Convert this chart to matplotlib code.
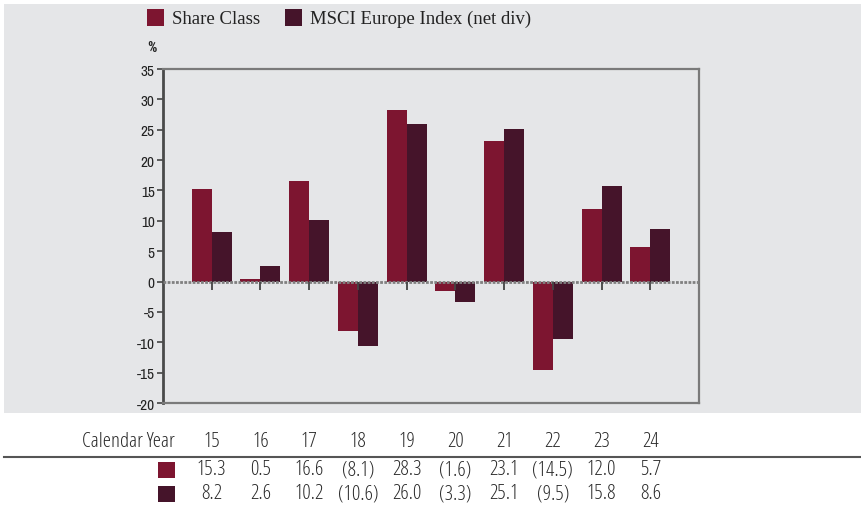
import matplotlib
matplotlib.use("Agg")
import matplotlib.pyplot as plt
from matplotlib.patches import Rectangle
from matplotlib.lines import Line2D
from matplotlib.transforms import blended_transform_factory

years = ["15", "16", "17", "18", "19", "20", "21", "22", "23", "24"]
share_class = [15.3, 0.5, 16.6, -8.1, 28.3, -1.6, 23.1, -14.5, 12.0, 5.7]
msci_index = [8.2, 2.6, 10.2, -10.6, 26.0, -3.3, 25.1, -9.5, 15.8, 8.6]
series_names = ["Share Class", "MSCI Europe Index (net div)"]
colors = ["#7D1530", "#45142A"]
yticks = list(range(-20, 40, 5))

TICK_FONT = ["Archivo Narrow", "Roboto Condensed", "DejaVu Sans"]

W, H = 862, 506
fig = plt.figure(figsize=(W / 100, H / 100), dpi=100)
fig.patch.set_facecolor("white")

def fx(px):
    return px / W

def fy(py):
    return 1 - py / H

# gray background panel
fig.add_artist(Rectangle((fx(4), fy(414)), 1 - fx(4), fy(5) - fy(414),
                         transform=fig.transFigure, facecolor="#E5E6E8",
                         edgecolor="none", zorder=0))

ax = fig.add_axes([fx(163), fy(404), fx(699) - fx(163), fy(70) - fy(404)])
ax.set_facecolor("#E5E6E8")
ax.set_zorder(1)

x = list(range(len(years)))
w = 0.41
ax.bar([i - w / 2 for i in x], share_class, width=w, color=colors[0], zorder=2)
ax.bar([i + w / 2 for i in x], msci_index, width=w, color=colors[1], zorder=2)

ax.set_xlim(-1, 10)
ax.set_ylim(-20, 35)
ax.axhline(0, color="#808080", linestyle=(0, (1, 0.5)), linewidth=2.0, zorder=3)
ax.plot(x, [0] * len(x), linestyle="none", marker=3, markersize=6,
        markeredgewidth=1.3, color="#444444", zorder=4)

ax.set_xticks([])
ax.set_yticks(yticks)
ax.set_yticklabels([str(v) for v in yticks], family=TICK_FONT,
                   fontsize=11, color="#222222")
ax.tick_params(axis="y", length=4, width=1.2, color="#444444", pad=2)
ax.spines["left"].set_color("#4a4a4a")
ax.spines["left"].set_linewidth(2.0)
for s in ["top", "right", "bottom"]:
    ax.spines[s].set_color("#7a7a7a")
    ax.spines[s].set_linewidth(1.6)

fig.text(fx(147), fy(48), "%", family=["Roboto Condensed", "DejaVu Sans"], fontsize=10.5,
         fontweight="bold", fontstretch="condensed", color="#222222", va="center", ha="left")

# legend
leg_items = [(147, series_names[0], colors[0]), (285, series_names[1], colors[1])]
for px, name, c in leg_items:
    fig.add_artist(Rectangle((fx(px), fy(27)), fx(17), fy(10) - fy(27),
                             transform=fig.transFigure, facecolor=c,
                             edgecolor="none"))
    fig.text(fx(px + 25), fy(19.5), name, family="Liberation Serif", fontsize=13.5,
             color="#222222", va="center", ha="left")

# table below
tr = blended_transform_factory(ax.transData, fig.transFigure)
tfont = dict(family=["Open Sans", "DejaVu Sans"], fontsize=15, color="#2a2a2a",
             fontweight="light", fontstretch="condensed")
fig.text(fx(175), fy(442), "Calendar Year", ha="right", va="center", **tfont)
for i, yr in enumerate(years):
    fig.text(i, fy(442), yr, ha="center", va="center", transform=tr, **tfont)

fig.add_artist(Line2D([fx(4), 1], [fy(458), fy(458)], transform=fig.transFigure,
                      color="#555555", linewidth=1.5))

def fmt(v):
    return f"({abs(v):.1f})" if v < 0 else f"{v:.1f}"

for row, (vals, c, py) in enumerate([(share_class, colors[0], 470.5),
                                     (msci_index, colors[1], 494.5)]):
    fig.add_artist(Rectangle((fx(158), fy(py + 8)), fx(17), fy(py - 8) - fy(py + 8),
                             transform=fig.transFigure, facecolor=c,
                             edgecolor="none"))
    for i, v in enumerate(vals):
        fig.text(i, fy(py), fmt(v), ha="center", va="center", transform=tr, **tfont)

fig.savefig("out.png", dpi=100)
